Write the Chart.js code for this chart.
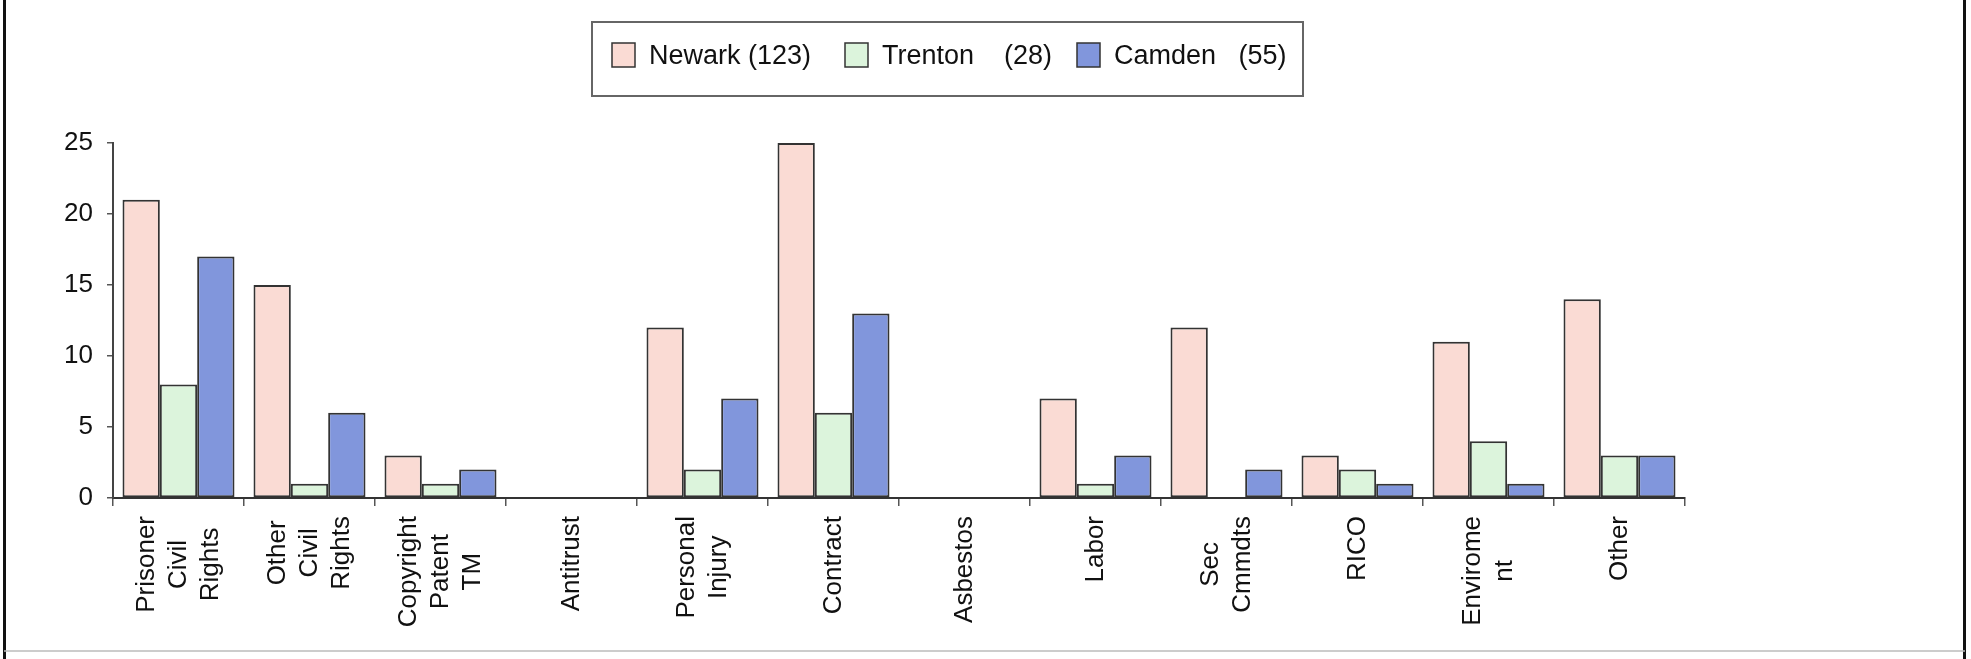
<!DOCTYPE html>
<html lang="en">
  <head>
    <meta charset="UTF-8" />
    <title>Case Types by Vicinage</title>
    <style>
      html,
      body {
        margin: 0;
        padding: 0;
        background: #fff;
      }
      #wrap {
        width: 1971px;
        height: 659px;
      }
    </style>
    <script src="https://cdn.jsdelivr.net/npm/chart.js@4"></script>
  </head>
  <body>
    <div id="wrap"><canvas id="caseChart" width="1971" height="659"></canvas></div>

    <script>
      // case types, one entry per group of bars (lines are stacked when drawn)
      const categories = [
        ['Prisoner', 'Civil', 'Rights'],
        ['Other', 'Civil', 'Rights'],
        ['Copyright', 'Patent', 'TM'],
        ['Antitrust'],
        ['Personal', 'Injury'],
        ['Contract'],
        ['Asbestos'],
        ['Labor'],
        ['Sec', 'Cmmdts'],
        ['RICO'],
        ['Envirome', 'nt'],
        ['Other'],
      ];

      const newark = [21, 15, 3, 0, 12, 25, 0, 7, 12, 3, 11, 14];
      const trenton = [8, 1, 1, 0, 2, 6, 0, 1, 0, 2, 4, 3];
      const camden = [17, 6, 2, 0, 7, 13, 0, 3, 2, 1, 1, 3];

      const seriesNames = ['Newark', 'Trenton', 'Camden'];
      const seriesGaps = [' ', '    ', '   ']; // spacing between name and total
      const seriesColors = ['#fadbd4', '#dcf4dc', '#8196dc'];

      const yTicks = [0, 5, 10, 15, 20, 25];

      const FONT = '"Liberation Sans", Arial, sans-serif';
      const sum = (arr) => arr.reduce((a, b) => a + b, 0);

      // rotated, centered multi-line category names under the axis
      const categoryLabels = {
        id: 'categoryLabels',
        afterDraw(chart) {
          const ctx = chart.ctx;
          const x = chart.scales.x;
          ctx.save();
          ctx.font = '26px ' + FONT;
          ctx.fillStyle = '#111';
          ctx.textAlign = 'center';
          ctx.textBaseline = 'middle';
          const top = x.top + 18;
          categories.forEach((lines, i) => {
            const cx = x.getPixelForValue(i);
            const longest = Math.max(...lines.map((l) => ctx.measureText(l).width));
            ctx.save();
            ctx.translate(cx, top);
            ctx.rotate(-Math.PI / 2);
            lines.forEach((line, j) => {
              ctx.fillText(line, -longest / 2, (j - (lines.length - 1) / 2) * 32);
            });
            ctx.restore();
          });
          ctx.restore();
        },
      };

      // boxed legend with the totals for each vicinage
      const boxLegend = {
        id: 'boxLegend',
        afterDraw(chart) {
          const ctx = chart.ctx;
          const itemX = [612, 845, 1077];
          ctx.save();
          ctx.strokeStyle = '#666';
          ctx.lineWidth = 2;
          ctx.strokeRect(592, 22, 711, 74);
          ctx.font = '27px ' + FONT;
          ctx.textBaseline = 'middle';
          chart.data.datasets.forEach((ds, i) => {
            const sx = itemX[i];
            ctx.fillStyle = ds.backgroundColor;
            ctx.fillRect(sx, 43, 23, 24);
            ctx.strokeStyle = '#333';
            ctx.lineWidth = 1.5;
            ctx.strokeRect(sx, 43, 23, 24);
            ctx.fillStyle = '#111';
            const text = seriesNames[i] + seriesGaps[i] + '(' + sum(ds.data) + ')';
            ctx.fillText(text, sx + 37, 57);
          });
          ctx.restore();
        },
      };

      // outer frame lines
      const frame = {
        id: 'frame',
        beforeDraw(chart) {
          const ctx = chart.ctx;
          const w = chart.width;
          const h = chart.height;
          ctx.save();
          ctx.strokeStyle = '#111';
          ctx.lineWidth = 3;
          ctx.beginPath();
          ctx.moveTo(4.5, 0);
          ctx.lineTo(4.5, h);
          ctx.moveTo(w - 6.5, 0);
          ctx.lineTo(w - 6.5, h);
          ctx.stroke();
          ctx.strokeStyle = '#bbb';
          ctx.lineWidth = 1.5;
          ctx.beginPath();
          ctx.moveTo(4, h - 8);
          ctx.lineTo(w - 6, h - 8);
          ctx.stroke();
          ctx.restore();
        },
      };

      const datasets = [newark, trenton, camden].map((values, i) => ({
        label: seriesNames[i],
        data: values,
        backgroundColor: seriesColors[i],
        borderColor: '#333',
        borderWidth: 2,
        borderSkipped: false,
        categoryPercentage: 0.855,
        barPercentage: 1.0,
      }));

      new Chart(document.getElementById('caseChart'), {
        type: 'bar',
        data: {
          labels: categories,
          datasets: datasets,
        },
        plugins: [frame, categoryLabels, boxLegend],
        options: {
          responsive: false,
          animation: false,
          devicePixelRatio: 1,
          events: [],
          layout: {
            padding: { top: 143, right: 286, bottom: 0, left: 0 },
          },
          plugins: {
            legend: { display: false },
            tooltip: { enabled: false },
            title: { display: false },
          },
          scales: {
            x: {
              grid: {
                offset: true,
                drawOnChartArea: false,
                drawTicks: true,
                tickLength: 8,
                color: '#555',
                lineWidth: 1.5,
              },
              border: { display: true, color: '#333', width: 2 },
              ticks: { display: false },
              afterFit(scale) {
                scale.height = 161;
              },
            },
            y: {
              min: 0,
              max: 25,
              afterBuildTicks(scale) {
                scale.ticks = yTicks.map((v) => ({ value: v }));
              },
              grid: {
                drawOnChartArea: false,
                drawTicks: true,
                tickLength: 6,
                color: '#555',
                lineWidth: 1.5,
              },
              border: { display: true, color: '#444', width: 2 },
              ticks: {
                color: '#111',
                padding: 14,
                font: { family: FONT, size: 26 },
              },
              afterFit(scale) {
                scale.width = 113;
              },
            },
          },
        },
      });
    </script>
  </body>
</html>
